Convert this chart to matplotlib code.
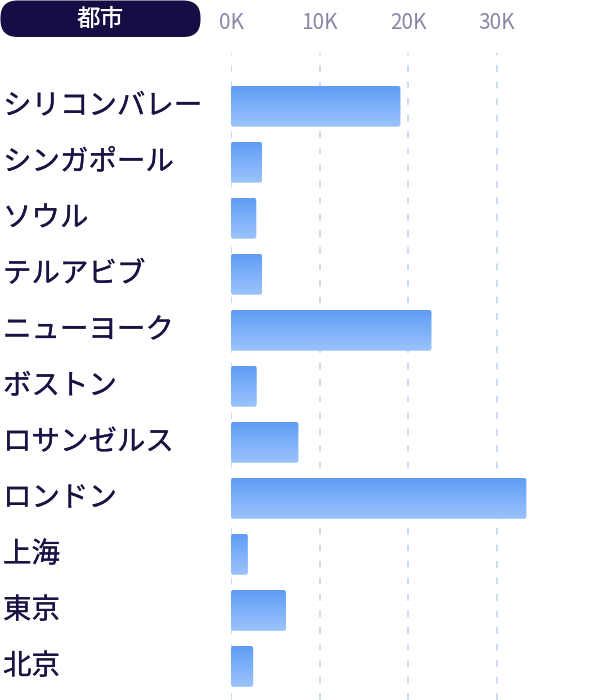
import matplotlib
matplotlib.use("Agg")
import matplotlib.pyplot as plt
import matplotlib.patheffects as pe
import numpy as np
from matplotlib.patches import FancyBboxPatch
from matplotlib.transforms import IdentityTransform

plt.rcParams['font.family'] = ['Noto Sans CJK JP', 'DejaVu Sans']

cities = ["シリコンバレー", "シンガポール", "ソウル", "テルアビブ", "ニューヨーク",
          "ボストン", "ロサンゼルス", "ロンドン", "上海", "東京", "北京"]
values = [19100, 3500, 2850, 3500, 22600, 2900, 7600, 33300, 1900, 6200, 2500]
xticks = [0, 10000, 20000, 30000]
xticklabels = ["0K", "10K", "20K", "30K"]
header = "都市"

W, H = 590, 700
fig = plt.figure(figsize=(W / 100, H / 100), dpi=100)
fig.patch.set_facecolor("white")

ax_left, ax_top = 231, 53
ax = fig.add_axes([ax_left / W, 0, (W - ax_left) / W, (H - ax_top) / H])
xmax = (W - ax_left) / 8.87 * 1000
ax.set_xlim(0, xmax)
ax.set_ylim(10.6, -0.95)

for s in ax.spines.values():
    s.set_visible(False)

ax.set_xticks(xticks)
ax.xaxis.tick_top()
ax.set_xticklabels(xticklabels, fontsize=15, color="#8b86a6")
ax.tick_params(axis="x", length=0, pad=14)
ax.set_yticks([])
for t in xticks:
    ax.axvline(t, color="#cddcf2", lw=1.4, ls=(0, (3.5, 5)), zorder=0)

bar_h = 0.73
bars = ax.barh(range(len(cities)), values, height=bar_h, color="none", edgecolor="none")

grad_colors = np.array([[0x60, 0x9c, 0xf6], [0x9b, 0xc4, 0xfb]]) / 255.0
grad = np.linspace(0, 1, 64)[:, None]
img = grad_colors[0] * (1 - grad[..., None]) + grad_colors[1] * grad[..., None]

px_x = xmax / (W - ax_left)
px_y = 1 / 56.0
for b in bars:
    x0, y0 = b.get_x(), b.get_y()
    w, h = b.get_width(), b.get_height()
    clip = FancyBboxPatch((x0, y0), w, h,
                          boxstyle=f"round,pad=0,rounding_size={2.5 * px_x}",
                          mutation_aspect=px_y / px_x,
                          facecolor="none", edgecolor="none", transform=ax.transData)
    ax.add_patch(clip)
    im = ax.imshow(img, extent=(x0, x0 + w, y0 + h, y0), aspect="auto",
                   interpolation="bilinear", zorder=2)
    im.set_clip_path(clip)

ax.set_xlim(0, xmax)
ax.set_ylim(10.6, -0.95)

label_color = "#1a1242"
for i, name in enumerate(cities):
    ax.text((3 - ax_left) / (W - ax_left), i, name, transform=ax.get_yaxis_transform(),
            ha="left", va="center", fontsize=20.5, color=label_color,
            path_effects=[pe.Stroke(linewidth=0.2, foreground=label_color), pe.Normal()])

pill = FancyBboxPatch((0.5, H - 37), 200, 36.5,
                      boxstyle="round,pad=0,rounding_size=17",
                      facecolor="#160d45", edgecolor="none",
                      transform=IdentityTransform())
fig.patches.append(pill)
fig.text(100 / W, 1 - 19.5 / H, header, ha="center", va="center",
         fontsize=17, fontweight="medium", color="white")

fig.savefig("out.png", dpi=100)
